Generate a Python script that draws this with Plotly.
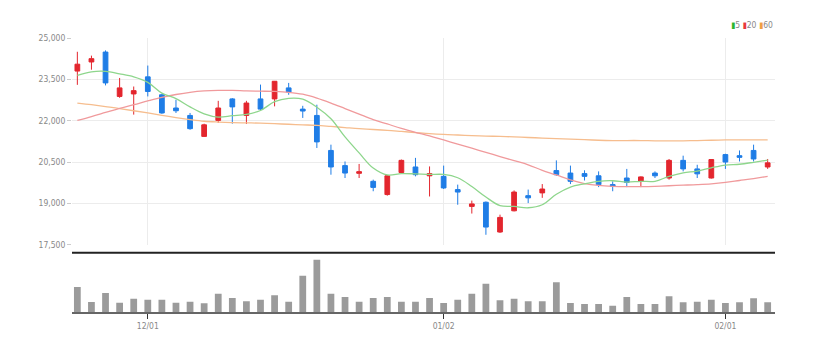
import plotly.graph_objects as go

dates = [
    "2022-11-24", "2022-11-25", "2022-11-28", "2022-11-29", "2022-11-30",
    "2022-12-01", "2022-12-02", "2022-12-05", "2022-12-06", "2022-12-07",
    "2022-12-08", "2022-12-09", "2022-12-12", "2022-12-13", "2022-12-14",
    "2022-12-15", "2022-12-16", "2022-12-19", "2022-12-20", "2022-12-21",
    "2022-12-22", "2022-12-23", "2022-12-26", "2022-12-27", "2022-12-28",
    "2022-12-29", "2023-01-02", "2023-01-03", "2023-01-04", "2023-01-05",
    "2023-01-06", "2023-01-09", "2023-01-10", "2023-01-11", "2023-01-12",
    "2023-01-13", "2023-01-16", "2023-01-17", "2023-01-18", "2023-01-19",
    "2023-01-20", "2023-01-25", "2023-01-26", "2023-01-27", "2023-01-30",
    "2023-01-31", "2023-02-01", "2023-02-02", "2023-02-03", "2023-02-06",
]
opens = [23800, 24130, 24490, 22880, 22970, 23590, 22940, 22460, 22190, 21430,
         22010, 22790, 22190, 22790, 22790, 23190, 22420, 22190, 20920, 20370,
         20090, 19800, 19320, 20120, 20320, 20000, 19980, 19500, 18890, 19040,
         17960, 18730, 19280, 19380, 20190, 20100, 20080, 20000, 19680, 19920,
         19800, 20100, 19920, 20560, 20250, 19920, 20770, 20730, 20920, 20320]
highs = [24500, 24360, 24550, 23550, 23240, 24000, 22970, 22760, 22280, 21890,
         22720, 22820, 22720, 23310, 23440, 23370, 22540, 22580, 21130, 20520,
         20430, 19860, 20020, 20590, 20650, 20340, 20370, 19680, 19100, 19070,
         18590, 19470, 19500, 19700, 20560, 20370, 20200, 20160, 19800, 20250,
         19980, 20160, 20610, 20730, 20400, 20600, 20800, 20920, 21130, 20610]
lows = [23300, 23850, 23280, 22830, 22220, 22880, 22250, 22280, 21670, 21420,
        21920, 21890, 21880, 22370, 22520, 22940, 22100, 21010, 20040, 19920,
        19920, 19440, 19280, 20100, 19980, 19250, 19520, 18950, 18630, 17860,
        17930, 18710, 19010, 19200, 20000, 19700, 19830, 19590, 19440, 19590,
        19590, 19920, 19860, 20160, 19920, 19900, 20250, 20520, 20520, 20250]
closes = [24050, 24250, 23370, 23190, 23090, 23060, 22280, 22360, 21710, 21850,
          22460, 22500, 22640, 22420, 23430, 23040, 22350, 21230, 20320, 20100,
          20150, 19580, 20000, 20560, 20040, 20080, 19560, 19410, 18980, 18140,
          18490, 19410, 19200, 19520, 20040, 19800, 19980, 19680, 19620, 19760,
          19960, 20000, 20560, 20250, 20070, 20590, 20500, 20670, 20610, 20470]
volumes = [250000, 100000, 190000, 93000, 133000, 123000, 123000, 93000, 103000, 87000,
           183000, 140000, 107000, 123000, 167000, 103000, 363000, 523000, 183000, 150000,
           103000, 140000, 150000, 103000, 103000, 140000, 90000, 123000, 183000, 283000,
           117000, 133000, 107000, 107000, 297000, 90000, 80000, 80000, 63000, 150000,
           80000, 80000, 157000, 97000, 103000, 123000, 90000, 97000, 137000, 97000]
ma5 = [23640, 23770, 23790, 23700, 23590, 23390, 23000, 22800, 22500, 22250,
       22130, 22180, 22230, 22370, 22690, 22810, 22780, 22490, 22070, 21410,
       20830, 20280, 20030, 20080, 20070, 20050, 20050, 19930, 19610, 19230,
       18920, 18890, 18840, 18950, 19330, 19590, 19710, 19800, 19820, 19770,
       19800, 19800, 19980, 20110, 20170, 20290, 20390, 20420, 20490, 20570]
ma20 = [22010, 22150, 22300, 22450, 22580, 22720, 22850, 22950, 23030, 23080,
        23100, 23100, 23080, 23070, 23060, 23030, 22960, 22820, 22640, 22440,
        22240, 22040, 21880, 21720, 21580, 21450, 21300, 21150, 21000, 20850,
        20700, 20550, 20400, 20200, 20030, 19850, 19720, 19650, 19620, 19610,
        19610, 19620, 19640, 19660, 19680, 19710, 19760, 19830, 19900, 19980]
ma60 = [22640, 22580, 22510, 22440, 22360, 22280, 22190, 22110, 22040, 21980,
        21950, 21930, 21920, 21910, 21890, 21870, 21850, 21830, 21790, 21750,
        21710, 21680, 21650, 21610, 21570, 21530, 21500, 21480, 21460, 21440,
        21430, 21410, 21390, 21370, 21350, 21330, 21310, 21290, 21280, 21280,
        21280, 21270, 21270, 21270, 21280, 21290, 21300, 21300, 21300, 21300]
tick_dates = ["2022-12-01", "2023-01-02", "2023-02-01"]
tick_labels = ["12/01", "01/02", "02/01"]
price_ticks = [17500, 19000, 20500, 22000, 23500, 25000]

FONT = "DejaVu Sans Condensed, Liberation Sans Narrow, Liberation Sans, sans-serif"
UP = "#e3262e"
DOWN = "#1f7de6"

fig = go.Figure()

fig.add_trace(go.Scatter(x=dates, y=ma60, mode="lines", line=dict(color="#f6bd8e", width=1.3, shape="spline"),
                         xaxis="x", yaxis="y", hoverinfo="skip"))
fig.add_trace(go.Scatter(x=dates, y=ma20, mode="lines", line=dict(color="#f09a9c", width=1.3, shape="spline"),
                         xaxis="x", yaxis="y", hoverinfo="skip"))
fig.add_trace(go.Scatter(x=dates, y=ma5, mode="lines", line=dict(color="#8ed68c", width=1.3, shape="spline"),
                         xaxis="x", yaxis="y", hoverinfo="skip"))

fig.add_trace(go.Candlestick(
    x=dates, open=opens, high=highs, low=lows, close=closes,
    increasing=dict(line=dict(color=UP, width=1), fillcolor=UP),
    decreasing=dict(line=dict(color=DOWN, width=1), fillcolor=DOWN),
    whiskerwidth=0, xaxis="x", yaxis="y",
))

fig.add_trace(go.Bar(x=dates, y=volumes, marker=dict(color="#9b9b9b", line=dict(width=0)),
                     width=0.48, xaxis="x2", yaxis="y2"))

fig.update_layout(
    width=823, height=351,
    margin=dict(l=72, r=48, t=38, b=39),
    paper_bgcolor="white", plot_bgcolor="white",
    showlegend=False,
    boxgap=0.52,
    font=dict(family=FONT, size=8.5, color="#888"),
    xaxis=dict(type="category", range=[-0.38, 49.52], anchor="y",
               tickvals=tick_dates, ticktext=tick_labels, showticklabels=False,
               showgrid=True, gridcolor="#ececec", gridwidth=1, ticks="",
               rangeslider=dict(visible=False), showline=False, zeroline=False),
    yaxis=dict(domain=[0.2456, 1], range=[17500, 25000], tickvals=price_ticks,
               tickformat=",", showgrid=True, gridcolor="#ececec", ticks="outside",
               ticklen=4, tickcolor="#cccccc", zeroline=False, showline=False,
               tickfont=dict(family=FONT, size=8.5, color="#888")),
    xaxis2=dict(type="category", range=[-0.38, 49.52], anchor="y2", matches="x",
                tickvals=tick_dates, ticktext=tick_labels, showgrid=False,
                ticks="outside", ticklen=5, tickcolor="#333", showline=True,
                linecolor="#666", linewidth=1.5, zeroline=False,
                tickfont=dict(family=FONT, size=8.5, color="#888")),
    yaxis2=dict(domain=[0, 0.209], range=[0, 573000], showticklabels=False,
                showgrid=False, zeroline=False, ticks=""),
    shapes=[dict(type="line", xref="paper", yref="paper", x0=0, x1=1,
                 y0=0.2164, y1=0.2164, line=dict(color="#222", width=2))],
    annotations=[dict(xref="paper", yref="paper", x=1.0, y=1.048, xanchor="right",
                      yanchor="middle", showarrow=False,
                      text=("<span style='color:#2db52d'>\u25ae</span>5 "
                            "<span style='color:#e8383d'>\u25ae</span>20 "
                            "<span style='color:#f0a040'>\u25ae</span>60"),
                      font=dict(family=FONT, size=8.5, color="#888"))],
)

fig.write_html("out.html")
